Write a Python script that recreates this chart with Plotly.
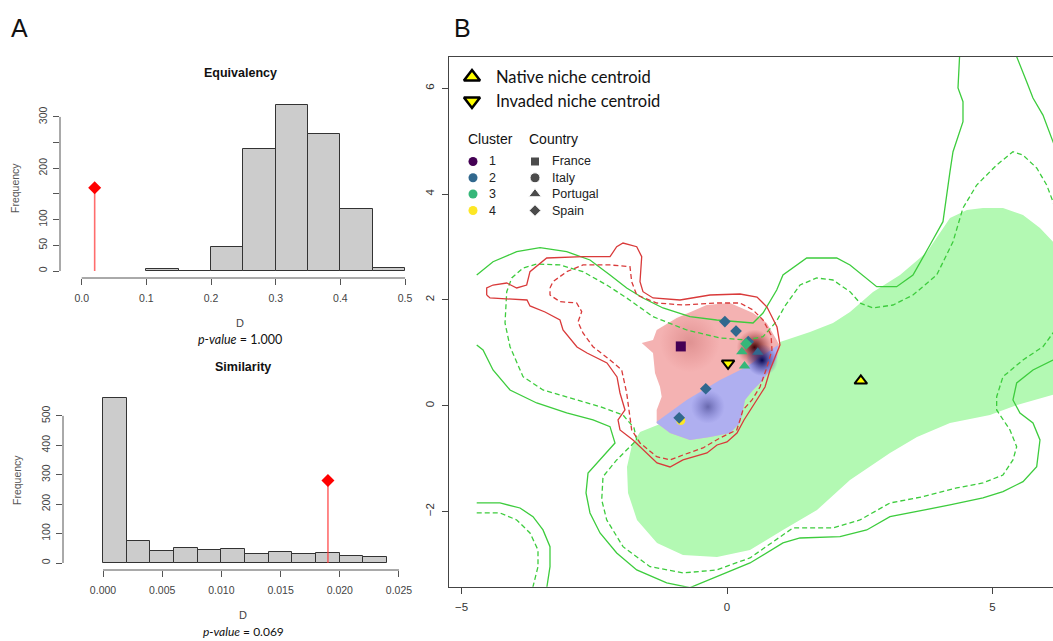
import plotly.graph_objects as go

W, H = 1053, 641

# ---------------- Panel A data ----------------
eq_edges = [0.10, 0.15, 0.20, 0.25, 0.30, 0.35, 0.40, 0.45, 0.50]
eq_counts = [3, 1, 47, 238, 323, 267, 121, 6]
eq_obs_D = 0.02
eq_obs_height = 162
eq_xticks = [0.0, 0.1, 0.2, 0.3, 0.4, 0.5]
eq_xticklabels = ["0.0", "0.1", "0.2", "0.3", "0.4", "0.5"]
eq_yticks = [0, 50, 100, 150, 200, 250, 300]
eq_yticklabels = ["0", "50", "100", "", "200", "", "300"]
eq_pvalue = "1.000"

sim_edges = [0.000, 0.002, 0.004, 0.006, 0.008, 0.010, 0.012, 0.014, 0.016, 0.018, 0.020, 0.022, 0.024]
sim_counts = [561, 75, 41, 52, 45, 47, 31, 36, 32, 35, 25, 20]
sim_obs_D = 0.019
sim_obs_height = 280
sim_xticks = [0.000, 0.005, 0.010, 0.015, 0.020, 0.025]
sim_xticklabels = ["0.000", "0.005", "0.010", "0.015", "0.020", "0.025"]
sim_yticks = [0, 100, 200, 300, 400, 500]
sim_yticklabels = ["0", "100", "200", "300", "400", "500"]
sim_pvalue = "0.069"

# ---------------- Panel B data ----------------
b_xticks = [-5, 0, 5]
b_yticks = [-2, 0, 2, 4, 6]

green_fill_x = [-1.638, -1.262, -0.508, 0.245, 0.998, 1.563, 1.996, 2.316, 2.749, 3.258, 3.766, 4.199, 4.519,
                4.820, 5.197, 5.574, 5.894, 6.195, 6.195, 5.461, 4.952, 4.199, 3.578, 3.069, 2.316, 1.695,
                1.054, 0.433, -0.188, -0.829, -1.318, -1.695, -1.864, -1.883, -1.789]
green_fill_y = [-0.497, -0.346, 0.013, 0.391, 1.204, 1.393, 1.563, 1.771, 2.149, 2.470, 2.905, 3.548, 3.699,
                3.737, 3.737, 3.604, 3.359, 3.037, 0.221, 0.013, -0.176, -0.327, -0.592, -0.894, -1.404, -1.971,
                -2.349, -2.727, -2.860, -2.822, -2.595, -2.160, -1.650, -1.159, -0.743]

pink_x = [-1.606, -1.393, -1.324, -0.947, -0.382, 0.056, 0.490, 0.748, 0.936, 0.998, 0.942, 0.810, 0.678,
          0.490, 0.339, 0.282, 0.245, 0.056, -0.320, -0.697, -1.073, -1.324, -1.324, -1.230, -1.262, -1.356, -1.393]
pink_y = [1.185, 1.242, 1.431, 1.658, 1.903, 1.941, 1.752, 1.563, 1.242, 1.109, 0.920, 0.675, 0.486,
          0.297, 0.108, -0.176, -0.327, -0.516, -0.592, -0.648, -0.516, -0.327, -0.081, 0.170, 0.359, 0.618, 0.996]

blue_x = [-1.324, -0.759, -0.132, 0.371, 0.960, 0.942, 0.810, 0.678, 0.490, 0.339, 0.282, 0.245, 0.056,
          -0.320, -0.697, -1.073, -1.324]
blue_y = [-0.302, 0.108, 0.486, 0.737, 1.147, 0.920, 0.675, 0.486, 0.297, 0.108, -0.176, -0.327, -0.516,
          -0.592, -0.648, -0.516, -0.327]

red_solid_x = [-4.525, -4.525, -4.406, -4.148, -3.960, -3.772, -3.710, -3.395, -2.712, -2.203, -2.077, -1.958,
               -1.700, -1.606, -1.638, -1.582, -1.393, -0.885, -0.320, 0.245, 0.565, 0.753, 0.942, 0.998, 0.936,
               0.810, 0.716, 0.565, 0.433, 0.320, 0.188, 0.000, -0.188, -0.377, -0.829, -1.073, -1.318, -1.582,
               -1.770, -2.015, -2.052, -1.921, -2.015, -2.071, -2.260, -2.636, -2.825, -3.088, -3.145, -3.427,
               -3.710, -3.766, -4.180, -4.463, -4.525]
red_solid_y = [2.092, 2.225, 2.281, 2.319, 2.225, 2.281, 2.533, 2.792, 2.816, 2.816, 3.005, 3.075,
               3.005, 2.816, 2.344, 2.155, 2.036, 1.998, 2.092, 2.111, 2.054, 1.865, 1.487, 1.147, 0.996,
               0.675, 0.353, 0.108, -0.081, -0.270, -0.516, -0.686, -0.743, -0.894, -1.026, -1.159, -1.083, -0.837,
               -0.648, -0.459, -0.270, -0.081, 0.240, 0.543, 0.807, 0.996, 1.109, 1.431, 1.620, 1.771,
               1.885, 1.998, 2.017, 2.036, 2.092]

red_dash_x = [-3.333, -3.277, -3.019, -2.712, -2.203, -1.827, -1.795, -1.700, -1.324, -0.829, -0.194, 0.245,
              0.490, 0.678, 0.829, 0.847, 0.734, 0.621, 0.471, 0.301, 0.245, 0.183, -0.132, -0.452, -0.829,
              -1.073, -1.324, -1.638, -1.795, -1.827, -1.889, -1.983, -2.203, -2.523, -2.712, -2.806, -2.736,
              -2.830, -3.145, -3.333, -3.333]
red_dash_y = [2.225, 2.344, 2.533, 2.660, 2.660, 2.628, 2.344, 2.092, 1.941, 1.903, 1.941, 1.941,
              1.809, 1.620, 1.336, 1.053, 0.675, 0.353, 0.108, -0.081, -0.270, -0.459, -0.610, -0.799, -0.932,
              -1.026, -0.964, -0.705, -0.459, -0.208, 0.240, 0.675, 0.864, 1.115, 1.374, 1.582, 1.777,
              1.941, 1.966, 2.092, 2.225]

green_solid_top_x = [-4.713, -4.406, -3.960, -3.521, -3.019, -2.580, -2.203, -1.889, -1.582, -1.205, -0.697,
                     -0.194, 0.490, 0.678, 0.936, 1.054, 1.501, 2.066, 2.316, 2.819, 3.195, 3.502, 3.822, 4.067,
                     4.199, 4.256, 4.444, 4.444, 4.350, 4.387, 4.387]
green_solid_top_y = [2.470, 2.722, 2.911, 2.986, 2.911, 2.754, 2.470, 2.225, 2.036, 1.847, 1.682,
                     1.620, 1.563, 1.752, 2.187, 2.470, 2.792, 2.792, 2.660, 2.249, 2.249, 2.470, 3.037, 3.478,
                     4.423, 4.801, 5.368, 5.746, 6.005, 6.572, 6.75]

green_solid_tr_x = [5.455, 5.455, 5.643, 5.762, 5.950, 6.139, 6.27]
green_solid_tr_y = [6.75, 6.597, 6.124, 5.816, 5.494, 4.990, 4.64]

green_solid_low_x = [-4.713, -4.594, -4.406, -4.086, -3.583, -3.019, -2.523, -2.203, -2.109, -2.391, -2.617,
                     -2.655, -2.580, -2.391, -2.077, -1.700, -1.135, -0.697, -0.194, 0.433, 1.054, 1.375, 2.128,
                     2.631, 3.069, 3.572, 4.199, 4.820, 5.197, 5.574, 5.832, 5.894, 5.762, 5.517, 5.385, 5.455,
                     5.762, 6.139, 6.271]
green_solid_low_y = [1.147, 1.053, 0.675, 0.297, 0.051, -0.138, -0.270, -0.397, -0.705, -1.026, -1.272,
                     -1.650, -2.028, -2.406, -2.784, -3.105, -3.351, -3.44, -3.232, -2.973, -2.595, -2.501, -2.476,
                     -2.349, -2.098, -2.003, -1.877, -1.744, -1.625, -1.436, -1.153, -0.648, -0.327, -0.138, 0.108,
                     0.429, 0.675, 0.864, 0.939]

green_dash_x = [6.233, 6.139, 6.020, 5.832, 5.574, 5.385, 5.078, 4.702, 4.444, 4.256, 3.949, 3.502, 3.126,
                2.749, 2.504, 2.316, 1.996, 1.689, 1.375, 1.092, 0.923, 0.678, 0.371, -0.132, -0.759, -1.393,
                -1.889, -2.265, -2.712, -3.145, -3.583, -3.841, -4.054, -4.148, -4.180, -4.086, -3.841, -3.465,
                -2.830, -2.391, -1.958, -1.751, -1.700, -2.077, -2.335, -2.359, -2.265, -1.958, -1.450, -0.829,
                -0.194, 0.433, 1.243, 1.996, 2.504, 3.069, 3.691, 4.325, 4.820, 5.197, 5.385, 5.455, 5.329,
                5.078, 5.078, 5.197, 5.574, 5.950, 6.139, 6.271]
green_dash_y = [3.604, 3.856, 4.171, 4.493, 4.738, 4.801, 4.549, 4.171, 3.737, 3.100, 2.470, 2.092, 1.903,
                1.847, 1.941, 2.155, 2.376, 2.414, 2.281, 1.885, 1.582, 1.304, 1.242, 1.280, 1.431, 1.682,
                2.036, 2.281, 2.533, 2.660, 2.678, 2.603, 2.414, 2.155, 1.563, 1.115, 0.548, 0.297,
                0.108, -0.019, -0.176, -0.421, -0.648, -1.026, -1.342, -1.782, -2.160, -2.665, -3.043, -3.162,
                -3.105, -2.878, -2.311, -2.311, -2.160, -1.839, -1.720, -1.555, -1.461, -1.310, -1.026, -0.775, -0.459,
                -0.081, 0.170, 0.548, 0.864, 1.115, 1.374, 1.525]

green_solid_bl_x = [-4.713, -4.275, -3.898, -3.653, -3.465, -3.333, -3.333, -3.395, -3.41]
green_solid_bl_y = [-1.839, -1.839, -1.934, -2.098, -2.349, -2.665, -3.043, -3.421, -3.55]
green_dash_bl_x = [-4.713, -4.275, -3.960, -3.710, -3.559, -3.559, -3.653, -3.672]
green_dash_bl_y = [-2.028, -2.028, -2.160, -2.406, -2.728, -3.043, -3.421, -3.55]

# density peaks (shading)
peak_x = [-0.70, -0.36, 0.52, 0.66]
peak_y = [1.20, -0.02, 1.10, 0.86]

# occurrences
occ_x = [-0.87, -0.87, -0.04, 0.17, 0.40, -0.40, -0.90, 0.36, 0.28, 0.33, 0.58]
occ_y = [1.12, -0.28, 1.59, 1.41, 1.21, 0.32, -0.23, 1.17, 1.02, 0.75, 1.01]
occ_cluster = [1, 4, 2, 2, 2, 2, 2, 3, 3, 3, 2]
occ_country = ["France", "Italy", "Spain", "Spain", "Spain", "Spain", "Spain", "Spain", "Portugal", "Portugal", "Portugal"]

native_centroid = (2.52, 0.47)
invaded_centroid = (0.02, 0.80)

clusters = [1, 2, 3, 4]
cluster_colors = ["#440154", "#31688e", "#35b779", "#fde725"]
countries = ["France", "Italy", "Portugal", "Spain"]
country_symbols = ["square", "circle", "triangle-up", "diamond"]

# ---------------- helpers ----------------
def pxx(x):
    return x / W


def pxy(y):
    return 1 - y / H


TICK_COL = "#555555"
AX_FONT = "Liberation Sans, Arial, sans-serif"
CAL_FONT = "Lato, Open Sans, sans-serif"

fig = go.Figure()

# ---------- Histograms ----------
def add_hist(edges, counts, obs_D, obs_h, xa, ya):
    mids = [(edges[i] + edges[i + 1]) / 2 for i in range(len(counts))]
    widths = [edges[i + 1] - edges[i] for i in range(len(counts))]
    fig.add_trace(go.Bar(x=mids, y=counts, width=widths, xaxis=xa, yaxis=ya,
                         marker=dict(color="#cccccc", line=dict(color="#333333", width=1)),
                         showlegend=False, hoverinfo="skip"))
    fig.add_trace(go.Scatter(x=[obs_D, obs_D], y=[0, obs_h], xaxis=xa, yaxis=ya, mode="lines",
                             line=dict(color="rgba(255,60,60,0.75)", width=1.6),
                             showlegend=False, hoverinfo="skip"))
    fig.add_trace(go.Scatter(x=[obs_D], y=[obs_h], xaxis=xa, yaxis=ya, mode="markers",
                             marker=dict(symbol="diamond", size=10, color="#ff0000"),
                             showlegend=False, hoverinfo="skip"))


add_hist(eq_edges, eq_counts, eq_obs_D, eq_obs_height, "x", "y")
add_hist(sim_edges, sim_counts, sim_obs_D, sim_obs_height, "x2", "y2")

# ---------- Panel B ----------
XB, YB = "x3", "y3"


def poly(xs, ys, color):
    fig.add_trace(go.Scatter(x=xs, y=ys, xaxis=XB, yaxis=YB, mode="lines", fill="toself",
                             fillcolor=color, line=dict(width=0), showlegend=False, hoverinfo="skip"))


def cline(xs, ys, color, dash=None):
    fig.add_trace(go.Scatter(x=xs, y=ys, xaxis=XB, yaxis=YB, mode="lines",
                             line=dict(color=color, width=1.3, dash=dash or "solid"),
                             showlegend=False, hoverinfo="skip"))


poly(green_fill_x, green_fill_y, "#b3f9b3")
poly(pink_x, pink_y, "#f4b2b2")
poly(blue_x, blue_y, "#afaff0")

# shading peaks
peak_outer = ["rgba(220,120,120,0)", "rgba(110,110,200,0)", "rgba(170,40,40,0)", "rgba(60,60,170,0)"]
peak_center = ["rgba(205,120,120,0.55)", "rgba(80,80,150,0.75)", "rgba(60,0,0,1)", "rgba(8,8,80,1)"]
peak_size = [60, 34, 36, 32]
for i in range(len(peak_x)):
    fig.add_trace(go.Scatter(x=[peak_x[i]], y=[peak_y[i]], xaxis=XB, yaxis=YB, mode="markers",
                             marker=dict(size=peak_size[i], color=peak_outer[i], line=dict(width=0),
                                         gradient=dict(type="radial", color=peak_center[i])),
                             showlegend=False, hoverinfo="skip"))

GREEN = "#3dcc3d"
RED = "#d93a3a"
DASH = "5px,3px"
cline(green_solid_top_x, green_solid_top_y, GREEN)
cline(green_solid_tr_x, green_solid_tr_y, GREEN)
cline(green_solid_low_x, green_solid_low_y, GREEN)
cline(green_solid_bl_x, green_solid_bl_y, GREEN)
cline(green_dash_x, green_dash_y, GREEN, DASH)
cline(green_dash_bl_x, green_dash_bl_y, GREEN, DASH)
cline(red_solid_x, red_solid_y, RED)
cline(red_dash_x, red_dash_y, RED, DASH)

# occurrences
for i in range(len(occ_x)):
    sym = country_symbols[countries.index(occ_country[i])]
    col = cluster_colors[clusters.index(occ_cluster[i])]
    size = {"square": 10, "circle": 9, "triangle-up": 10, "diamond": 9}[sym]
    fig.add_trace(go.Scatter(x=[occ_x[i]], y=[occ_y[i]], xaxis=XB, yaxis=YB, mode="markers",
                             marker=dict(symbol=sym, size=size, color=col, line=dict(width=0)),
                             showlegend=False, hoverinfo="skip"))

fig.add_trace(go.Scatter(x=[native_centroid[0]], y=[native_centroid[1]], xaxis=XB, yaxis=YB, mode="markers",
                         marker=dict(symbol="triangle-up", size=11, color="#ffff00", line=dict(color="black", width=2)),
                         showlegend=False, hoverinfo="skip"))
fig.add_trace(go.Scatter(x=[invaded_centroid[0]], y=[invaded_centroid[1]], xaxis=XB, yaxis=YB, mode="markers",
                         marker=dict(symbol="triangle-down", size=11, color="#ffff00", line=dict(color="black", width=2)),
                         showlegend=False, hoverinfo="skip"))

# ---------- Legend for panel B (overlay axes in pixel units) ----------
XL, YL = "x4", "y4"
fig.add_trace(go.Scatter(x=[472, 472], y=[77, 101], xaxis=XL, yaxis=YL, mode="markers",
                         marker=dict(symbol=["triangle-up", "triangle-down"], size=14, color="#ffff00",
                                     line=dict(color="black", width=2.5)),
                         showlegend=False, hoverinfo="skip"))
leg_rows = [161.5, 177.8, 194, 210.5]
fig.add_trace(go.Scatter(x=[473] * 4, y=leg_rows, xaxis=XL, yaxis=YL, mode="markers",
                         marker=dict(symbol="circle", size=9, color=cluster_colors),
                         showlegend=False, hoverinfo="skip"))
fig.add_trace(go.Scatter(x=[535] * 4, y=leg_rows, xaxis=XL, yaxis=YL, mode="markers",
                         marker=dict(symbol=country_symbols, size=[9, 10, 11, 9], color="black"),
                         showlegend=False, hoverinfo="skip"))

annotations = []


def txt(x, y, s, size, font=AX_FONT, color="#222222", xanchor="center", angle=0, bold=False):
    if bold:
        s = "<b>" + s + "</b>"
    annotations.append(dict(x=pxx(x), y=pxy(y), xref="paper", yref="paper", text=s, showarrow=False,
                            xanchor=xanchor, yanchor="middle", textangle=angle,
                            font=dict(size=size, family=font, color=color)))


txt(494, 77, "Native niche centroid", 16.5, CAL_FONT, "#111111", "left")
txt(494, 101, "Invaded niche centroid", 16.5, CAL_FONT, "#111111", "left")
txt(466, 139, "Cluster", 14, AX_FONT, "#111111", "left")
txt(527, 139, "Country", 14, AX_FONT, "#111111", "left")
for i in range(4):
    txt(492.5, leg_rows[i], str(clusters[i]), 12.5, AX_FONT, "#222222")
    txt(550, leg_rows[i], countries[i], 12.5, AX_FONT, "#222222", "left")

# panel labels
txt(19, 28, "A", 25, AX_FONT, "#111111")
txt(462, 28, "B", 25, AX_FONT, "#111111")

# histogram titles and labels
txt(240, 73, "Equivalency", 12.5, AX_FONT, "#111111", bold=True)
txt(240, 323, "D", 11, AX_FONT, "#444444")
txt(240, 339, "<i>p-value</i> = " + eq_pvalue, 12.5, CAL_FONT, "#111111")
txt(15, 188, "Frequency", 10.5, AX_FONT, "#555555", angle=-90)

txt(243, 367, "Similarity", 12.5, AX_FONT, "#111111", bold=True)
txt(243, 615, "D", 11, AX_FONT, "#444444")
txt(243, 631.5, "<i>p-value</i> = " + sim_pvalue, 12, CAL_FONT, "#111111")
txt(17, 480, "Frequency", 10.5, AX_FONT, "#555555", angle=-90)

# ---------- axes ----------
def hist_axes(xdom, ydom, xrange, yrange, xt, xtl, yt, ytl):
    xa = dict(domain=xdom, range=xrange, showgrid=False, zeroline=False, showline=False,
              ticks="outside", ticklen=6, tickcolor=TICK_COL, tickwidth=1,
              tickvals=xt, ticktext=xtl, tickfont=dict(size=10.5, color="#444444", family=AX_FONT),
              ticklabelstandoff=4, fixedrange=True)
    ya = dict(domain=ydom, range=yrange, showgrid=False, zeroline=False, showline=False,
              ticks="outside", ticklen=6, tickcolor=TICK_COL, tickwidth=1,
              tickvals=yt, ticktext=ytl, tickangle=-90, tickfont=dict(size=10.5, color="#444444", family=AX_FONT),
              ticklabelstandoff=2, fixedrange=True)
    return xa, ya


xa1, ya1 = hist_axes([pxx(60), pxx(418)], [pxy(278), pxy(100)], [-0.0336, 0.520], [-13.6, 333],
                     eq_xticks, eq_xticklabels, eq_yticks, eq_yticklabels)
xa2, ya2 = hist_axes([pxx(63), pxx(412)], [pxy(570), pxy(390)], [-0.00338, 0.0261], [-23.8, 588],
                     sim_xticks, sim_xticklabels, sim_yticks, sim_yticklabels)
ya1["anchor"] = "x"
xa1["anchor"] = "y"
xa2["anchor"] = "y2"
ya2["anchor"] = "x2"

shapes = []
for xr, yr, xt, yt in [("x", "y", eq_xticks, eq_yticks), ("x2", "y2", sim_xticks, sim_yticks)]:
    shapes.append(dict(type="line", xref=xr, yref=yr + " domain", x0=xt[0], x1=xt[-1], y0=0, y1=0,
                       line=dict(color=TICK_COL, width=1)))
    shapes.append(dict(type="line", xref=xr + " domain", yref=yr, x0=0, x1=0, y0=yt[0], y1=yt[-1],
                       line=dict(color=TICK_COL, width=1)))

xa3 = dict(domain=[pxx(449), 1.0], range=[-5.235, 6.139], anchor="y3", showgrid=False, zeroline=False,
           showline=True, mirror=True, linecolor="#444444", linewidth=1,
           ticks="outside", ticklen=6, tickcolor="#444444", tickvals=b_xticks,
           tickfont=dict(size=11.5, color="#333333", family=AX_FONT), ticklabelstandoff=3, fixedrange=True)
ya3 = dict(domain=[pxy(586.7), pxy(56.7)], range=[-3.422, 6.597], anchor="x3", showgrid=False, zeroline=False,
           showline=True, mirror=False, linecolor="#444444", linewidth=1,
           ticks="outside", ticklen=6, tickcolor="#444444", tickvals=b_yticks, tickangle=-90,
           tickfont=dict(size=11.5, color="#333333", family=AX_FONT), ticklabelstandoff=3, fixedrange=True)

xa4 = dict(domain=[0, 1], range=[0, W], visible=False, anchor="y4", fixedrange=True)
ya4 = dict(domain=[0, 1], range=[H, 0], visible=False, anchor="x4", fixedrange=True)

fig.update_layout(
    width=W, height=H, margin=dict(l=0, r=0, t=0, b=0),
    paper_bgcolor="white", plot_bgcolor="rgba(0,0,0,0)",
    xaxis=xa1, yaxis=ya1, xaxis2=xa2, yaxis2=ya2, xaxis3=xa3, yaxis3=ya3, xaxis4=xa4, yaxis4=ya4,
    annotations=annotations, shapes=shapes, bargap=0, showlegend=False,
)

fig.write_html("out.html", config={"displayModeBar": False})
